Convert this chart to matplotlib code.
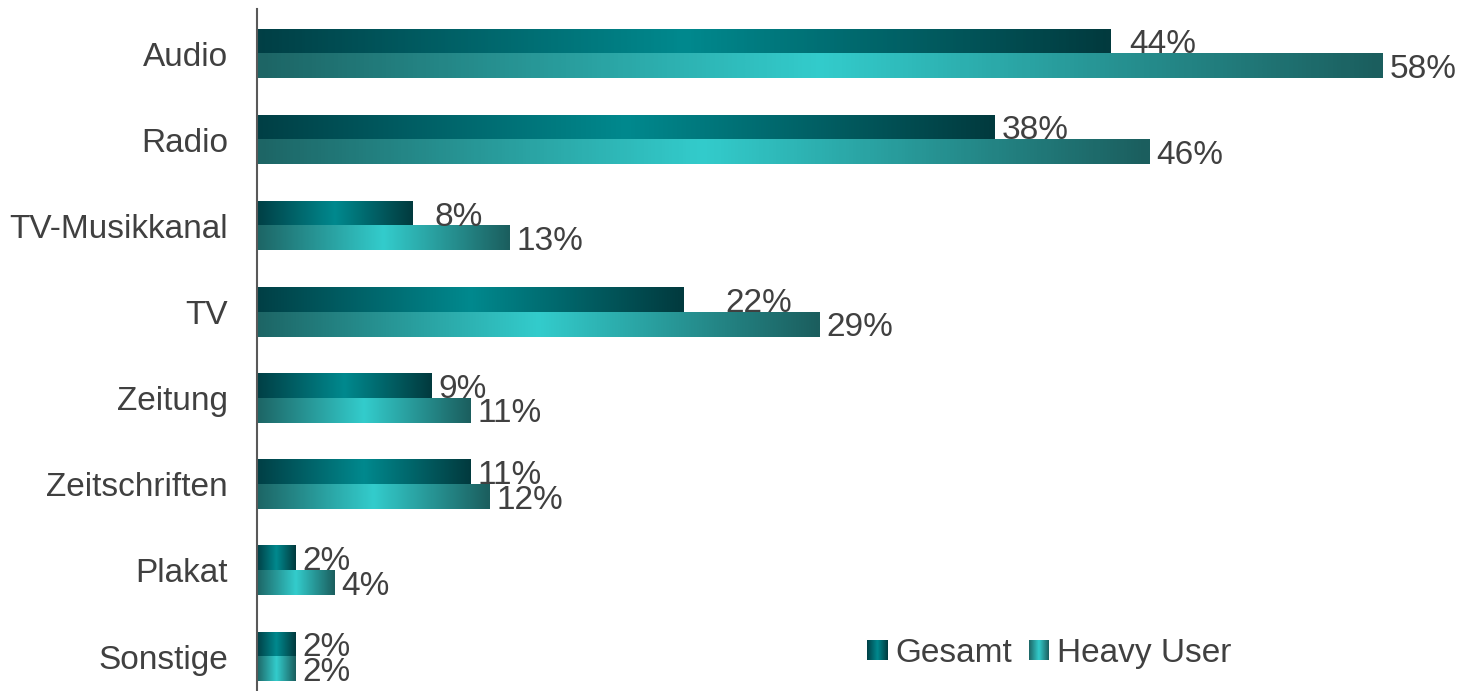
import numpy as np
import matplotlib.pyplot as plt
from matplotlib.colors import LinearSegmentedColormap

categories = ["Audio", "Radio", "TV-Musikkanal", "TV", "Zeitung",
              "Zeitschriften", "Plakat", "Sonstige"]
gesamt = [44, 38, 8, 22, 9, 11, 2, 2]
heavy_user = [58, 46, 13, 29, 11, 12, 4, 2]
series_names = ["Gesamt", "Heavy User"]

# a few Gesamt labels sit further right of their bar (pixels)
gesamt_nudge = [12, 0, 15, 35, 0, 0, 0, 0]

plt.rcParams["font.family"] = ["Liberation Sans", "DejaVu Sans"]
text_color = "#404040"
fsize = 24

# bars are shaded dark -> bright -> dark along their length
cmap_gesamt = LinearSegmentedColormap.from_list(
    "gesamt", ["#013f45", "#00898e", "#023a3e"])
cmap_heavy = LinearSegmentedColormap.from_list(
    "heavy", ["#1d6565", "#33cccc", "#1b5e5e"])
grad = np.linspace(0, 1, 256).reshape(1, -1)

W, H = 1463, 691
fig = plt.figure(figsize=(W / 100, H / 100), dpi=100)
ax = fig.add_axes([257 / W, 0, 1 - 257 / W, 1 - 9 / H])

y = np.arange(len(categories))
h = 0.285
bars_g = ax.barh(y - h / 2, gesamt, height=h, color="none")
bars_h = ax.barh(y + h / 2, heavy_user, height=h, color="none")


def fill_gradient(bars, cmap):
    for bar in bars:
        x0, y0 = bar.get_x(), bar.get_y()
        w, hh = bar.get_width(), bar.get_height()
        ax.imshow(grad, cmap=cmap, aspect="auto",
                  extent=(x0, x0 + w, y0 + hh, y0),
                  interpolation="bilinear", zorder=2)


fill_gradient(bars_g, cmap_gesamt)
fill_gradient(bars_h, cmap_heavy)

for i in range(len(categories)):
    ax.annotate(f"{gesamt[i]}%", xy=(gesamt[i], y[i] - h / 2),
                xytext=(7 + gesamt_nudge[i], 0), textcoords="offset pixels",
                ha="left", va="center_baseline", fontsize=fsize,
                color=text_color, zorder=3)
    ax.annotate(f"{heavy_user[i]}%", xy=(heavy_user[i], y[i] + h / 2),
                xytext=(7, 0), textcoords="offset pixels",
                ha="left", va="center_baseline", fontsize=fsize,
                color=text_color, zorder=3)

ax.set_xlim(0, 1206 / 19.4)
ax.set_ylim(7.40, -0.517)
ax.set_yticks(y, categories, fontsize=fsize, color=text_color)
ax.tick_params(axis="y", length=0, pad=21)
ax.xaxis.set_visible(False)
for side in ["top", "right", "bottom"]:
    ax.spines[side].set_visible(False)
ax.spines["left"].set_color("#595959")
ax.spines["left"].set_linewidth(1.5)

# legend: small shaded squares with labels
for name, cmap, sq_x, txt_x in [(series_names[0], cmap_gesamt, 867, 895),
                                (series_names[1], cmap_heavy, 1029, 1057)]:
    lax = fig.add_axes([sq_x / W, 1 - 660 / H, 20 / W, 20 / H])
    lax.imshow(grad, cmap=cmap, aspect="auto", interpolation="bilinear")
    lax.axis("off")
    fig.text(txt_x / W, 1 - 650 / H, name, fontsize=fsize, color=text_color,
             ha="left", va="center_baseline")

fig.savefig("out.png", dpi=100, facecolor="white")
